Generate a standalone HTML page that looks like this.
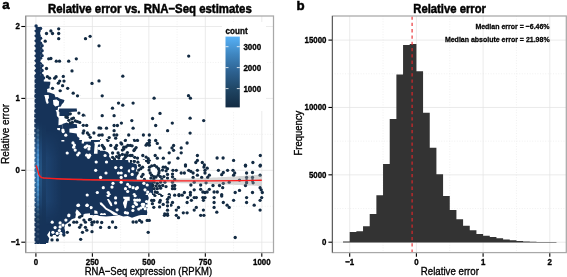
<!DOCTYPE html>
<html><head><meta charset="utf-8"><title>Relative error</title>
<style>html,body{margin:0;padding:0;background:#fff;width:567px;height:277px;overflow:hidden}
text{font-family:"Liberation Sans", sans-serif}</style></head>
<body>
<svg width="567" height="277" viewBox="0 0 567 277" style="display:block">
<rect width="567" height="277" fill="#fff"/>
<line x1="64.14" y1="16.0" x2="64.14" y2="252.5" stroke="#eeeeee" stroke-width="0.8" stroke-dasharray="1,1.6"/><line x1="120.61" y1="16.0" x2="120.61" y2="252.5" stroke="#eeeeee" stroke-width="0.8" stroke-dasharray="1,1.6"/><line x1="177.09" y1="16.0" x2="177.09" y2="252.5" stroke="#eeeeee" stroke-width="0.8" stroke-dasharray="1,1.6"/><line x1="233.56" y1="16.0" x2="233.56" y2="252.5" stroke="#eeeeee" stroke-width="0.8" stroke-dasharray="1,1.6"/><line x1="25.5" y1="206.25" x2="273.5" y2="206.25" stroke="#eeeeee" stroke-width="0.8" stroke-dasharray="1,1.6"/><line x1="25.5" y1="134.35" x2="273.5" y2="134.35" stroke="#eeeeee" stroke-width="0.8" stroke-dasharray="1,1.6"/><line x1="25.5" y1="62.45" x2="273.5" y2="62.45" stroke="#eeeeee" stroke-width="0.8" stroke-dasharray="1,1.6"/><line x1="35.90" y1="16.0" x2="35.90" y2="252.5" stroke="#e3e3e3" stroke-width="0.7"/><line x1="92.38" y1="16.0" x2="92.38" y2="252.5" stroke="#e3e3e3" stroke-width="0.7"/><line x1="148.85" y1="16.0" x2="148.85" y2="252.5" stroke="#e3e3e3" stroke-width="0.7"/><line x1="205.32" y1="16.0" x2="205.32" y2="252.5" stroke="#e3e3e3" stroke-width="0.7"/><line x1="261.80" y1="16.0" x2="261.80" y2="252.5" stroke="#e3e3e3" stroke-width="0.7"/><line x1="25.5" y1="242.20" x2="273.5" y2="242.20" stroke="#e3e3e3" stroke-width="0.7"/><line x1="25.5" y1="170.30" x2="273.5" y2="170.30" stroke="#e3e3e3" stroke-width="0.7"/><line x1="25.5" y1="98.40" x2="273.5" y2="98.40" stroke="#e3e3e3" stroke-width="0.7"/><line x1="25.5" y1="26.50" x2="273.5" y2="26.50" stroke="#e3e3e3" stroke-width="0.7"/>
<line x1="383.05" y1="16.0" x2="383.05" y2="252.5" stroke="#eeeeee" stroke-width="0.8" stroke-dasharray="1,1.6"/><line x1="449.75" y1="16.0" x2="449.75" y2="252.5" stroke="#eeeeee" stroke-width="0.8" stroke-dasharray="1,1.6"/><line x1="516.45" y1="16.0" x2="516.45" y2="252.5" stroke="#eeeeee" stroke-width="0.8" stroke-dasharray="1,1.6"/><line x1="332.0" y1="208.52" x2="566.5" y2="208.52" stroke="#eeeeee" stroke-width="0.8" stroke-dasharray="1,1.6"/><line x1="332.0" y1="141.15" x2="566.5" y2="141.15" stroke="#eeeeee" stroke-width="0.8" stroke-dasharray="1,1.6"/><line x1="332.0" y1="73.79" x2="566.5" y2="73.79" stroke="#eeeeee" stroke-width="0.8" stroke-dasharray="1,1.6"/><line x1="349.70" y1="16.0" x2="349.70" y2="252.5" stroke="#e3e3e3" stroke-width="0.7"/><line x1="416.40" y1="16.0" x2="416.40" y2="252.5" stroke="#e3e3e3" stroke-width="0.7"/><line x1="483.10" y1="16.0" x2="483.10" y2="252.5" stroke="#e3e3e3" stroke-width="0.7"/><line x1="549.80" y1="16.0" x2="549.80" y2="252.5" stroke="#e3e3e3" stroke-width="0.7"/><line x1="332.0" y1="242.20" x2="566.5" y2="242.20" stroke="#e3e3e3" stroke-width="0.7"/><line x1="332.0" y1="174.83" x2="566.5" y2="174.83" stroke="#e3e3e3" stroke-width="0.7"/><line x1="332.0" y1="107.47" x2="566.5" y2="107.47" stroke="#e3e3e3" stroke-width="0.7"/><line x1="332.0" y1="40.10" x2="566.5" y2="40.10" stroke="#e3e3e3" stroke-width="0.7"/>
<defs><clipPath id="pc"><rect x="25.5" y="16" width="248" height="236.5"/></clipPath><linearGradient id="cA" x1="0" y1="16" x2="0" y2="252" gradientUnits="userSpaceOnUse"><stop offset="0.0000" stop-color="#163359"/><stop offset="0.4492" stop-color="#163359"/><stop offset="0.5042" stop-color="#1b4169"/><stop offset="0.5466" stop-color="#245284"/><stop offset="0.5890" stop-color="#2c6298"/><stop offset="0.6314" stop-color="#2f6ba0"/><stop offset="0.6737" stop-color="#3270a5"/><stop offset="0.7161" stop-color="#2f6a9e"/><stop offset="0.7585" stop-color="#295c8d"/><stop offset="0.7924" stop-color="#224f7e"/><stop offset="0.8220" stop-color="#1b4168"/><stop offset="0.8559" stop-color="#17375a"/><stop offset="0.8898" stop-color="#163359"/><stop offset="1.0000" stop-color="#163359"/></linearGradient><linearGradient id="cB" x1="0" y1="16" x2="0" y2="252" gradientUnits="userSpaceOnUse"><stop offset="0.0000" stop-color="#163359"/><stop offset="0.4492" stop-color="#163359"/><stop offset="0.5042" stop-color="#1f4b73"/><stop offset="0.5466" stop-color="#2d67a0"/><stop offset="0.5890" stop-color="#3a82c2"/><stop offset="0.6314" stop-color="#4090d0"/><stop offset="0.6737" stop-color="#4498d8"/><stop offset="0.7161" stop-color="#3f8ecc"/><stop offset="0.7585" stop-color="#3577b0"/><stop offset="0.7924" stop-color="#2a6296"/><stop offset="0.8220" stop-color="#1f4a72"/><stop offset="0.8559" stop-color="#183a5a"/><stop offset="0.8898" stop-color="#163359"/><stop offset="1.0000" stop-color="#163359"/></linearGradient><linearGradient id="cC" x1="0" y1="16" x2="0" y2="252" gradientUnits="userSpaceOnUse"><stop offset="0.0000" stop-color="#163359"/><stop offset="0.4492" stop-color="#163359"/><stop offset="0.5042" stop-color="#193b61"/><stop offset="0.5466" stop-color="#1d4470"/><stop offset="0.5890" stop-color="#224c7b"/><stop offset="0.6314" stop-color="#23517f"/><stop offset="0.6737" stop-color="#255382"/><stop offset="0.7161" stop-color="#23507e"/><stop offset="0.7585" stop-color="#204975"/><stop offset="0.7924" stop-color="#1c426d"/><stop offset="0.8220" stop-color="#193a61"/><stop offset="0.8559" stop-color="#173559"/><stop offset="0.8898" stop-color="#163359"/><stop offset="1.0000" stop-color="#163359"/></linearGradient><linearGradient id="cD" x1="0" y1="16" x2="0" y2="252" gradientUnits="userSpaceOnUse"><stop offset="0.0000" stop-color="#163359"/><stop offset="0.4492" stop-color="#163359"/><stop offset="0.5042" stop-color="#17365c"/><stop offset="0.5466" stop-color="#193962"/><stop offset="0.5890" stop-color="#1a3c66"/><stop offset="0.6314" stop-color="#1b3e67"/><stop offset="0.6737" stop-color="#1c3f68"/><stop offset="0.7161" stop-color="#1b3e67"/><stop offset="0.7585" stop-color="#1a3b63"/><stop offset="0.7924" stop-color="#183960"/><stop offset="0.8220" stop-color="#17365c"/><stop offset="0.8559" stop-color="#163459"/><stop offset="0.8898" stop-color="#163359"/><stop offset="1.0000" stop-color="#163359"/></linearGradient></defs>
<g clip-path="url(#pc)">
<rect x="35.7" y="27" width="4.5" height="51" fill="#163359"/>
<g fill="#163359"><circle cx="36.10" cy="25.90" r="1.7"/><circle cx="37.60" cy="28.38" r="1.7"/><circle cx="40.60" cy="28.38" r="1.7"/><circle cx="36.10" cy="30.86" r="1.7"/><circle cx="39.10" cy="30.86" r="1.7"/><circle cx="37.60" cy="33.34" r="1.7"/><circle cx="36.10" cy="35.82" r="1.7"/><circle cx="39.10" cy="35.82" r="1.7"/><circle cx="37.60" cy="38.30" r="1.7"/><circle cx="40.60" cy="38.30" r="1.7"/><circle cx="36.10" cy="40.78" r="1.7"/><circle cx="39.10" cy="40.78" r="1.7"/><circle cx="37.60" cy="43.26" r="1.7"/><circle cx="40.60" cy="43.26" r="1.7"/><circle cx="36.10" cy="45.74" r="1.7"/><circle cx="39.10" cy="45.74" r="1.7"/><circle cx="42.10" cy="45.74" r="1.7"/><circle cx="37.60" cy="48.22" r="1.7"/><circle cx="40.60" cy="48.22" r="1.7"/><circle cx="36.10" cy="50.70" r="1.7"/><circle cx="39.10" cy="50.70" r="1.7"/><circle cx="42.10" cy="50.70" r="1.7"/><circle cx="37.60" cy="53.18" r="1.7"/><circle cx="40.60" cy="53.18" r="1.7"/><circle cx="36.10" cy="55.66" r="1.7"/><circle cx="39.10" cy="55.66" r="1.7"/><circle cx="42.10" cy="55.66" r="1.7"/><circle cx="37.60" cy="58.14" r="1.7"/><circle cx="40.60" cy="58.14" r="1.7"/><circle cx="36.10" cy="60.62" r="1.7"/><circle cx="39.10" cy="60.62" r="1.7"/><circle cx="37.60" cy="63.10" r="1.7"/><circle cx="40.60" cy="63.10" r="1.7"/><circle cx="36.10" cy="65.58" r="1.7"/><circle cx="39.10" cy="65.58" r="1.7"/><circle cx="42.10" cy="65.58" r="1.7"/><circle cx="37.60" cy="68.06" r="1.7"/><circle cx="40.60" cy="68.06" r="1.7"/><circle cx="36.10" cy="70.54" r="1.7"/><circle cx="39.10" cy="70.54" r="1.7"/><circle cx="42.10" cy="70.54" r="1.7"/><circle cx="37.60" cy="73.02" r="1.7"/><circle cx="40.60" cy="73.02" r="1.7"/><circle cx="36.10" cy="75.50" r="1.7"/><circle cx="39.10" cy="75.50" r="1.7"/><circle cx="42.10" cy="75.50" r="1.7"/><circle cx="37.60" cy="77.98" r="1.7"/><circle cx="40.60" cy="77.98" r="1.7"/><circle cx="43.60" cy="77.98" r="1.7"/></g>
<polygon points="34.5,76.0 43.8,76.0 43.8,81.4 50.3,81.8 50.3,83.9 49.6,86.1 49.6,88.3 47.1,89.0 47.1,91.5 49.6,91.9 54.7,95.1 54.7,96.9 34.5,96.9" fill="#163359"/>
<polygon points="34.5,95.3 43.8,95.3 45.6,98.2 46.0,103.2 47.8,103.9 48.5,100.3 47.4,97.4 47.8,95.6 56.1,95.6 56.5,98.5 53.2,100.3 52.5,102.5 53.9,103.9 54.7,106.1 56.8,106.8 57.9,109.4 73.0,109.4 73.0,111.5 59.0,111.5 57.5,113.0 56.8,116.9 34.5,116.9" fill="#163359"/>
<polygon points="34.5,116.0 73.0,116.0 73.0,136.9 34.5,136.9" fill="#163359"/>
<polygon points="34.9,136.0 93.0,136.0 93.0,166.0 34.9,166.0" fill="#163359"/>
<polygon points="93.0,152.8 100.6,152.2 107.1,153.3 110.9,154.4 111.4,157.1 115.7,158.7 121.2,159.3 127.7,159.8 128.7,162.5 138.5,162.0 140.7,166.0 93.0,166.0" fill="#163359"/>
<polygon points="34.9,166.0 93.0,166.0 93.0,196.0 34.9,196.0" fill="#163359"/>
<polygon points="93.0,166.0 153.0,166.0 153.0,196.0 93.0,196.0" fill="#163359"/>
<polygon points="34.9,196.0 54.7,196.0 54.7,226.0 34.9,226.0" fill="#163359"/>
<polygon points="38.6,194.9 93.0,194.9 93.0,212.9 84.8,213.7 81.9,215.8 80.4,212.9 76.8,209.3 75.4,212.2 76.1,215.8 74.7,219.4 71.1,220.9 67.4,223.1 63.8,225.0 38.6,225.0" fill="#163359"/>
<polygon points="93.0,196.0 153.0,196.0 153.0,198.7 147.2,200.3 145.0,204.7 141.7,209.0 145.0,211.2 146.1,213.9 138.5,215.5 132.0,217.7 127.7,216.0 123.3,216.6 119.0,215.0 112.5,216.0 106.0,216.6 99.5,216.0 96.2,214.4 93.0,215.5" fill="#163359"/>
<polygon points="34.9,217.7 54.7,217.7 57.9,222.0 54.7,225.2 52.5,228.5 49.2,231.7 47.1,235.0 49.2,238.2 48.2,243.1 34.9,243.1" fill="#163359"/>
<polygon points="64.8,116.0 73.0,116.0 73.0,118.5 68.4,118.9 66.2,118.2" fill="#fff"/>
<polygon points="59.0,118.2 61.9,117.1 64.8,118.9 64.8,123.2 61.9,123.9 59.4,121.8" fill="#fff"/>
<polygon points="56.8,126.8 59.7,126.1 61.9,128.3 65.5,129.4 66.2,131.5 63.3,131.9 61.2,130.4 57.5,130.1" fill="#fff"/>
<polygon points="69.1,133.3 73.0,132.6 73.0,136.0 69.8,136.0" fill="#fff"/>
<g fill="#fff">
<circle cx="42.2" cy="61.2" r="1.6"/>
<circle cx="56.8" cy="116.4" r="1.6"/>
<circle cx="63.3" cy="140.9" r="1.6"/>
<circle cx="67.7" cy="152.8" r="1.6"/>
<circle cx="74.2" cy="143.6" r="1.6"/>
<circle cx="74.7" cy="146.8" r="1.6"/>
<circle cx="75.2" cy="150.1" r="1.6"/>
<circle cx="78.5" cy="153.3" r="1.6"/>
<circle cx="79.6" cy="156.0" r="1.6"/>
<circle cx="80.7" cy="137.1" r="1.6"/>
<circle cx="82.8" cy="138.2" r="1.6"/>
<circle cx="85.0" cy="139.2" r="1.6"/>
<circle cx="87.2" cy="140.3" r="1.6"/>
<circle cx="90.4" cy="140.9" r="1.6"/>
<circle cx="86.6" cy="146.3" r="1.6"/>
<circle cx="90.4" cy="149.0" r="1.6"/>
<circle cx="88.2" cy="156.6" r="1.6"/>
<circle cx="89.3" cy="158.2" r="1.6"/>
<circle cx="76.3" cy="137.6" r="1.6"/>
<circle cx="104.9" cy="155.5" r="1.6"/>
<circle cx="106.5" cy="162.0" r="1.6"/>
<circle cx="96.2" cy="162.0" r="1.6"/>
<circle cx="132.5" cy="164.2" r="1.6"/>
<circle cx="87.2" cy="195.0" r="1.6"/>
<circle cx="95.7" cy="170.3" r="1.6"/>
<circle cx="106.0" cy="173.0" r="1.6"/>
<circle cx="115.7" cy="167.6" r="1.6"/>
<circle cx="121.2" cy="167.6" r="1.6"/>
<circle cx="118.5" cy="173.0" r="1.6"/>
<circle cx="121.2" cy="173.0" r="1.6"/>
<circle cx="121.2" cy="177.4" r="1.6"/>
<circle cx="100.6" cy="177.4" r="1.6"/>
<circle cx="121.2" cy="182.2" r="1.6"/>
<circle cx="113.0" cy="183.3" r="1.6"/>
<circle cx="112.0" cy="187.1" r="1.6"/>
<circle cx="103.3" cy="187.7" r="1.6"/>
<circle cx="97.3" cy="192.5" r="1.6"/>
<circle cx="108.2" cy="192.5" r="1.6"/>
<circle cx="109.2" cy="194.7" r="1.6"/>
<circle cx="136.3" cy="169.2" r="1.6"/>
<circle cx="139.6" cy="169.2" r="1.6"/>
<circle cx="142.8" cy="169.2" r="1.6"/>
<circle cx="137.9" cy="172.0" r="1.6"/>
<circle cx="141.2" cy="172.0" r="1.6"/>
<circle cx="136.3" cy="174.7" r="1.6"/>
<circle cx="139.6" cy="174.7" r="1.6"/>
<circle cx="142.8" cy="174.7" r="1.6"/>
<circle cx="137.9" cy="176.8" r="1.6"/>
<circle cx="141.2" cy="176.8" r="1.6"/>
<circle cx="147.7" cy="169.2" r="1.6"/>
<circle cx="150.9" cy="169.2" r="1.6"/>
<circle cx="129.3" cy="170.9" r="1.6"/>
<circle cx="131.4" cy="172.0" r="1.6"/>
<circle cx="125.5" cy="175.7" r="1.6"/>
<circle cx="127.7" cy="184.4" r="1.6"/>
<circle cx="129.8" cy="186.6" r="1.6"/>
<circle cx="133.1" cy="187.7" r="1.6"/>
<circle cx="136.3" cy="188.7" r="1.6"/>
<circle cx="125.5" cy="188.7" r="1.6"/>
<circle cx="127.7" cy="191.5" r="1.6"/>
<circle cx="134.2" cy="194.7" r="1.6"/>
<circle cx="143.9" cy="183.3" r="1.6"/>
<circle cx="147.2" cy="185.0" r="1.6"/>
<circle cx="145.0" cy="189.8" r="1.6"/>
<circle cx="147.7" cy="192.0" r="1.6"/>
<circle cx="150.4" cy="194.2" r="1.6"/>
<circle cx="147.2" cy="194.7" r="1.6"/>
<circle cx="137.4" cy="187.7" r="1.6"/>
<circle cx="77.9" cy="205.4" r="1.6"/>
<circle cx="86.9" cy="205.4" r="1.6"/>
<circle cx="91.3" cy="207.5" r="1.6"/>
<circle cx="68.9" cy="215.1" r="1.6"/>
<circle cx="66.0" cy="220.2" r="1.6"/>
<circle cx="61.7" cy="222.7" r="1.6"/>
<circle cx="53.7" cy="222.7" r="1.6"/>
<circle cx="78.5" cy="205.2" r="1.6"/>
<circle cx="87.2" cy="205.2" r="1.6"/>
<circle cx="99.5" cy="203.6" r="1.6"/>
<circle cx="102.7" cy="206.8" r="1.6"/>
<circle cx="106.0" cy="209.0" r="1.6"/>
<circle cx="109.2" cy="203.6" r="1.6"/>
<circle cx="112.5" cy="206.8" r="1.6"/>
<circle cx="115.7" cy="202.5" r="1.6"/>
<circle cx="119.0" cy="204.7" r="1.6"/>
<circle cx="121.2" cy="207.9" r="1.6"/>
<circle cx="125.5" cy="200.3" r="1.6"/>
<circle cx="128.7" cy="202.5" r="1.6"/>
<circle cx="130.9" cy="205.7" r="1.6"/>
<circle cx="134.2" cy="202.5" r="1.6"/>
<circle cx="137.4" cy="200.3" r="1.6"/>
<circle cx="139.6" cy="204.7" r="1.6"/>
<circle cx="138.5" cy="209.0" r="1.6"/>
<circle cx="136.3" cy="212.2" r="1.6"/>
<circle cx="114.7" cy="211.2" r="1.6"/>
<circle cx="109.2" cy="212.2" r="1.6"/>
<circle cx="103.8" cy="212.2" r="1.6"/>
<circle cx="123.3" cy="211.2" r="1.6"/>
<circle cx="120.1" cy="212.2" r="1.6"/>
</g>
<g fill="#132B43">
<circle cx="46.5" cy="33.5" r="1.65"/>
<circle cx="50.9" cy="30.9" r="1.65"/>
<circle cx="52.5" cy="33.5" r="1.65"/>
<circle cx="58.7" cy="28.8" r="1.65"/>
<circle cx="58.7" cy="33.5" r="1.65"/>
<circle cx="58.7" cy="38.7" r="1.65"/>
<circle cx="45.2" cy="41.2" r="1.65"/>
<circle cx="85.5" cy="38.7" r="1.65"/>
<circle cx="90.1" cy="36.3" r="1.65"/>
<circle cx="99.0" cy="45.8" r="1.65"/>
<circle cx="48.7" cy="58.8" r="1.65"/>
<circle cx="50.9" cy="58.5" r="1.65"/>
<circle cx="56.3" cy="61.2" r="1.65"/>
<circle cx="59.5" cy="61.2" r="1.65"/>
<circle cx="68.7" cy="61.2" r="1.65"/>
<circle cx="76.3" cy="58.8" r="1.65"/>
<circle cx="46.5" cy="68.5" r="1.65"/>
<circle cx="72.0" cy="70.9" r="1.65"/>
<circle cx="188.7" cy="56.1" r="1.65"/>
<circle cx="73.6" cy="93.1" r="1.65"/>
<circle cx="78.5" cy="95.8" r="1.65"/>
<circle cx="92.0" cy="83.4" r="1.65"/>
<circle cx="47.4" cy="76.7" r="1.65"/>
<circle cx="49.6" cy="78.2" r="1.65"/>
<circle cx="54.7" cy="78.2" r="1.65"/>
<circle cx="56.1" cy="76.7" r="1.65"/>
<circle cx="63.3" cy="76.4" r="1.65"/>
<circle cx="58.3" cy="83.2" r="1.65"/>
<circle cx="59.7" cy="81.1" r="1.65"/>
<circle cx="64.0" cy="81.1" r="1.65"/>
<circle cx="62.6" cy="85.7" r="1.65"/>
<circle cx="67.7" cy="88.3" r="1.65"/>
<circle cx="60.1" cy="90.8" r="1.65"/>
<circle cx="72.7" cy="93.3" r="1.65"/>
<circle cx="52.5" cy="88.3" r="1.65"/>
<circle cx="63.3" cy="100.3" r="1.65"/>
<circle cx="61.9" cy="103.2" r="1.65"/>
<circle cx="60.4" cy="105.0" r="1.65"/>
<circle cx="59.7" cy="113.3" r="1.65"/>
<circle cx="63.3" cy="113.0" r="1.65"/>
<circle cx="66.2" cy="113.3" r="1.65"/>
<circle cx="70.5" cy="113.3" r="1.65"/>
<circle cx="122.8" cy="76.2" r="1.65"/>
<circle cx="99.0" cy="80.9" r="1.65"/>
<circle cx="102.2" cy="95.8" r="1.65"/>
<circle cx="118.5" cy="103.1" r="1.65"/>
<circle cx="122.8" cy="105.2" r="1.65"/>
<circle cx="133.1" cy="103.1" r="1.65"/>
<circle cx="154.1" cy="98.2" r="1.65"/>
<circle cx="188.5" cy="95.7" r="1.65"/>
<circle cx="190.4" cy="98.2" r="1.65"/>
<circle cx="73.1" cy="110.3" r="1.65"/>
<circle cx="75.8" cy="110.3" r="1.65"/>
<circle cx="79.6" cy="113.0" r="1.65"/>
<circle cx="83.9" cy="115.7" r="1.65"/>
<circle cx="73.1" cy="117.9" r="1.65"/>
<circle cx="74.7" cy="120.1" r="1.65"/>
<circle cx="76.9" cy="122.2" r="1.65"/>
<circle cx="80.7" cy="122.2" r="1.65"/>
<circle cx="73.1" cy="125.5" r="1.65"/>
<circle cx="83.9" cy="125.5" r="1.65"/>
<circle cx="87.2" cy="125.5" r="1.65"/>
<circle cx="74.2" cy="127.7" r="1.65"/>
<circle cx="82.8" cy="132.0" r="1.65"/>
<circle cx="86.1" cy="133.6" r="1.65"/>
<circle cx="89.3" cy="134.7" r="1.65"/>
<circle cx="112.5" cy="108.2" r="1.65"/>
<circle cx="102.2" cy="115.7" r="1.65"/>
<circle cx="114.1" cy="115.7" r="1.65"/>
<circle cx="131.8" cy="120.6" r="1.65"/>
<circle cx="121.4" cy="123.1" r="1.65"/>
<circle cx="114.1" cy="125.5" r="1.65"/>
<circle cx="117.4" cy="125.5" r="1.65"/>
<circle cx="100.6" cy="128.2" r="1.65"/>
<circle cx="106.5" cy="128.2" r="1.65"/>
<circle cx="114.1" cy="130.7" r="1.65"/>
<circle cx="133.1" cy="128.2" r="1.65"/>
<circle cx="94.1" cy="132.5" r="1.65"/>
<circle cx="99.5" cy="135.0" r="1.65"/>
<circle cx="102.2" cy="135.0" r="1.65"/>
<circle cx="114.1" cy="135.0" r="1.65"/>
<circle cx="116.8" cy="135.0" r="1.65"/>
<circle cx="128.7" cy="135.0" r="1.65"/>
<circle cx="143.4" cy="135.0" r="1.65"/>
<circle cx="149.3" cy="135.0" r="1.65"/>
<circle cx="152.6" cy="118.5" r="1.65"/>
<circle cx="160.0" cy="113.4" r="1.65"/>
<circle cx="155.7" cy="125.5" r="1.65"/>
<circle cx="172.3" cy="123.1" r="1.65"/>
<circle cx="167.6" cy="130.7" r="1.65"/>
<circle cx="190.1" cy="118.2" r="1.65"/>
<circle cx="203.7" cy="120.6" r="1.65"/>
<circle cx="190.1" cy="133.1" r="1.65"/>
<circle cx="109.2" cy="137.6" r="1.65"/>
<circle cx="115.7" cy="138.2" r="1.65"/>
<circle cx="94.1" cy="140.3" r="1.65"/>
<circle cx="96.8" cy="140.3" r="1.65"/>
<circle cx="99.5" cy="140.3" r="1.65"/>
<circle cx="107.1" cy="140.3" r="1.65"/>
<circle cx="125.5" cy="140.3" r="1.65"/>
<circle cx="134.2" cy="140.3" r="1.65"/>
<circle cx="137.4" cy="140.3" r="1.65"/>
<circle cx="149.3" cy="140.3" r="1.65"/>
<circle cx="121.2" cy="143.0" r="1.65"/>
<circle cx="110.9" cy="144.7" r="1.65"/>
<circle cx="147.2" cy="143.6" r="1.65"/>
<circle cx="149.3" cy="142.5" r="1.65"/>
<circle cx="95.2" cy="146.3" r="1.65"/>
<circle cx="97.3" cy="146.8" r="1.65"/>
<circle cx="102.7" cy="146.3" r="1.65"/>
<circle cx="110.3" cy="145.7" r="1.65"/>
<circle cx="115.7" cy="145.7" r="1.65"/>
<circle cx="125.5" cy="145.7" r="1.65"/>
<circle cx="128.7" cy="145.7" r="1.65"/>
<circle cx="130.9" cy="145.2" r="1.65"/>
<circle cx="146.1" cy="145.2" r="1.65"/>
<circle cx="149.3" cy="145.2" r="1.65"/>
<circle cx="95.7" cy="148.5" r="1.65"/>
<circle cx="98.4" cy="149.0" r="1.65"/>
<circle cx="103.3" cy="148.5" r="1.65"/>
<circle cx="114.7" cy="147.9" r="1.65"/>
<circle cx="117.9" cy="147.9" r="1.65"/>
<circle cx="122.2" cy="149.5" r="1.65"/>
<circle cx="125.5" cy="147.9" r="1.65"/>
<circle cx="134.2" cy="148.5" r="1.65"/>
<circle cx="136.3" cy="147.4" r="1.65"/>
<circle cx="94.1" cy="151.2" r="1.65"/>
<circle cx="97.9" cy="151.2" r="1.65"/>
<circle cx="99.5" cy="150.6" r="1.65"/>
<circle cx="103.8" cy="151.7" r="1.65"/>
<circle cx="112.5" cy="152.8" r="1.65"/>
<circle cx="119.0" cy="152.8" r="1.65"/>
<circle cx="123.3" cy="150.6" r="1.65"/>
<circle cx="127.7" cy="152.2" r="1.65"/>
<circle cx="114.7" cy="155.5" r="1.65"/>
<circle cx="120.6" cy="155.5" r="1.65"/>
<circle cx="126.6" cy="154.4" r="1.65"/>
<circle cx="130.9" cy="155.5" r="1.65"/>
<circle cx="137.4" cy="157.7" r="1.65"/>
<circle cx="142.8" cy="155.5" r="1.65"/>
<circle cx="146.1" cy="157.1" r="1.65"/>
<circle cx="148.2" cy="158.7" r="1.65"/>
<circle cx="112.5" cy="157.7" r="1.65"/>
<circle cx="117.9" cy="158.2" r="1.65"/>
<circle cx="122.2" cy="158.2" r="1.65"/>
<circle cx="125.5" cy="157.1" r="1.65"/>
<circle cx="128.7" cy="158.7" r="1.65"/>
<circle cx="136.3" cy="160.9" r="1.65"/>
<circle cx="143.9" cy="160.9" r="1.65"/>
<circle cx="147.2" cy="163.1" r="1.65"/>
<circle cx="149.3" cy="160.9" r="1.65"/>
<circle cx="149.3" cy="164.7" r="1.65"/>
<circle cx="155.7" cy="140.5" r="1.65"/>
<circle cx="157.3" cy="143.4" r="1.65"/>
<circle cx="160.0" cy="147.9" r="1.65"/>
<circle cx="173.6" cy="145.5" r="1.65"/>
<circle cx="172.0" cy="147.9" r="1.65"/>
<circle cx="173.6" cy="150.3" r="1.65"/>
<circle cx="169.2" cy="152.8" r="1.65"/>
<circle cx="181.2" cy="147.9" r="1.65"/>
<circle cx="181.2" cy="152.8" r="1.65"/>
<circle cx="187.1" cy="143.0" r="1.65"/>
<circle cx="155.2" cy="155.5" r="1.65"/>
<circle cx="157.3" cy="158.2" r="1.65"/>
<circle cx="163.3" cy="158.2" r="1.65"/>
<circle cx="177.9" cy="158.2" r="1.65"/>
<circle cx="169.2" cy="162.5" r="1.65"/>
<circle cx="197.4" cy="155.5" r="1.65"/>
<circle cx="197.4" cy="160.4" r="1.65"/>
<circle cx="195.8" cy="162.5" r="1.65"/>
<circle cx="202.3" cy="162.5" r="1.65"/>
<circle cx="204.4" cy="165.0" r="1.65"/>
<circle cx="155.7" cy="165.0" r="1.65"/>
<circle cx="185.5" cy="165.0" r="1.65"/>
<circle cx="217.1" cy="158.0" r="1.65"/>
<circle cx="223.1" cy="158.0" r="1.65"/>
<circle cx="233.6" cy="160.4" r="1.65"/>
<circle cx="252.9" cy="162.5" r="1.65"/>
<circle cx="260.3" cy="155.5" r="1.65"/>
<circle cx="245.5" cy="165.2" r="1.65"/>
<circle cx="260.3" cy="165.2" r="1.65"/>
<circle cx="154.1" cy="167.1" r="1.65"/>
<circle cx="157.3" cy="166.5" r="1.65"/>
<circle cx="163.8" cy="167.1" r="1.65"/>
<circle cx="166.0" cy="168.2" r="1.65"/>
<circle cx="185.5" cy="166.0" r="1.65"/>
<circle cx="203.9" cy="167.1" r="1.65"/>
<circle cx="207.2" cy="168.2" r="1.65"/>
<circle cx="155.2" cy="170.3" r="1.65"/>
<circle cx="158.4" cy="169.8" r="1.65"/>
<circle cx="163.8" cy="170.3" r="1.65"/>
<circle cx="168.2" cy="170.3" r="1.65"/>
<circle cx="173.0" cy="170.3" r="1.65"/>
<circle cx="176.3" cy="170.3" r="1.65"/>
<circle cx="188.7" cy="170.3" r="1.65"/>
<circle cx="190.9" cy="171.4" r="1.65"/>
<circle cx="197.4" cy="170.3" r="1.65"/>
<circle cx="205.0" cy="170.3" r="1.65"/>
<circle cx="153.0" cy="173.0" r="1.65"/>
<circle cx="156.2" cy="173.6" r="1.65"/>
<circle cx="161.7" cy="174.1" r="1.65"/>
<circle cx="167.1" cy="175.2" r="1.65"/>
<circle cx="172.5" cy="174.1" r="1.65"/>
<circle cx="181.2" cy="173.0" r="1.65"/>
<circle cx="184.4" cy="173.0" r="1.65"/>
<circle cx="193.1" cy="173.0" r="1.65"/>
<circle cx="197.4" cy="175.2" r="1.65"/>
<circle cx="205.0" cy="173.0" r="1.65"/>
<circle cx="209.3" cy="175.2" r="1.65"/>
<circle cx="154.1" cy="176.3" r="1.65"/>
<circle cx="157.3" cy="176.3" r="1.65"/>
<circle cx="160.6" cy="176.8" r="1.65"/>
<circle cx="163.8" cy="176.8" r="1.65"/>
<circle cx="172.5" cy="176.8" r="1.65"/>
<circle cx="193.1" cy="177.4" r="1.65"/>
<circle cx="201.7" cy="177.4" r="1.65"/>
<circle cx="207.7" cy="177.4" r="1.65"/>
<circle cx="153.0" cy="179.5" r="1.65"/>
<circle cx="156.2" cy="179.5" r="1.65"/>
<circle cx="159.5" cy="179.5" r="1.65"/>
<circle cx="174.7" cy="179.5" r="1.65"/>
<circle cx="154.1" cy="182.2" r="1.65"/>
<circle cx="157.3" cy="183.3" r="1.65"/>
<circle cx="160.6" cy="182.2" r="1.65"/>
<circle cx="164.9" cy="182.2" r="1.65"/>
<circle cx="172.5" cy="182.2" r="1.65"/>
<circle cx="190.9" cy="185.0" r="1.65"/>
<circle cx="200.7" cy="185.0" r="1.65"/>
<circle cx="206.1" cy="182.8" r="1.65"/>
<circle cx="194.2" cy="182.2" r="1.65"/>
<circle cx="153.0" cy="185.5" r="1.65"/>
<circle cx="156.2" cy="186.0" r="1.65"/>
<circle cx="159.5" cy="186.0" r="1.65"/>
<circle cx="162.7" cy="185.5" r="1.65"/>
<circle cx="166.0" cy="186.6" r="1.65"/>
<circle cx="172.5" cy="186.0" r="1.65"/>
<circle cx="174.7" cy="185.5" r="1.65"/>
<circle cx="154.1" cy="188.7" r="1.65"/>
<circle cx="157.3" cy="188.7" r="1.65"/>
<circle cx="160.6" cy="188.2" r="1.65"/>
<circle cx="172.5" cy="188.7" r="1.65"/>
<circle cx="174.7" cy="188.7" r="1.65"/>
<circle cx="194.2" cy="189.8" r="1.65"/>
<circle cx="200.7" cy="189.3" r="1.65"/>
<circle cx="209.3" cy="189.3" r="1.65"/>
<circle cx="155.2" cy="192.0" r="1.65"/>
<circle cx="157.3" cy="192.5" r="1.65"/>
<circle cx="184.4" cy="192.5" r="1.65"/>
<circle cx="190.4" cy="192.5" r="1.65"/>
<circle cx="202.8" cy="192.0" r="1.65"/>
<circle cx="205.0" cy="192.5" r="1.65"/>
<circle cx="207.2" cy="192.0" r="1.65"/>
<circle cx="154.1" cy="195.0" r="1.65"/>
<circle cx="159.5" cy="195.0" r="1.65"/>
<circle cx="169.2" cy="194.7" r="1.65"/>
<circle cx="174.7" cy="195.2" r="1.65"/>
<circle cx="179.0" cy="194.7" r="1.65"/>
<circle cx="182.2" cy="195.2" r="1.65"/>
<circle cx="190.4" cy="195.0" r="1.65"/>
<circle cx="218.4" cy="170.3" r="1.65"/>
<circle cx="223.3" cy="172.5" r="1.65"/>
<circle cx="221.7" cy="174.7" r="1.65"/>
<circle cx="227.6" cy="170.3" r="1.65"/>
<circle cx="233.0" cy="170.3" r="1.65"/>
<circle cx="234.7" cy="173.0" r="1.65"/>
<circle cx="233.6" cy="175.2" r="1.65"/>
<circle cx="245.5" cy="166.0" r="1.65"/>
<circle cx="260.1" cy="166.0" r="1.65"/>
<circle cx="246.6" cy="173.0" r="1.65"/>
<circle cx="252.5" cy="172.5" r="1.65"/>
<circle cx="260.1" cy="175.2" r="1.65"/>
<circle cx="246.6" cy="177.4" r="1.65"/>
<circle cx="252.5" cy="177.4" r="1.65"/>
<circle cx="239.5" cy="180.1" r="1.65"/>
<circle cx="229.2" cy="182.2" r="1.65"/>
<circle cx="246.6" cy="180.6" r="1.65"/>
<circle cx="252.5" cy="180.6" r="1.65"/>
<circle cx="246.6" cy="182.8" r="1.65"/>
<circle cx="253.1" cy="182.8" r="1.65"/>
<circle cx="245.5" cy="185.5" r="1.65"/>
<circle cx="223.3" cy="183.3" r="1.65"/>
<circle cx="219.5" cy="185.5" r="1.65"/>
<circle cx="222.7" cy="187.7" r="1.65"/>
<circle cx="213.0" cy="185.5" r="1.65"/>
<circle cx="214.1" cy="192.0" r="1.65"/>
<circle cx="217.3" cy="192.0" r="1.65"/>
<circle cx="221.7" cy="194.7" r="1.65"/>
<circle cx="235.2" cy="192.5" r="1.65"/>
<circle cx="239.5" cy="190.4" r="1.65"/>
<circle cx="252.5" cy="192.5" r="1.65"/>
<circle cx="260.1" cy="187.7" r="1.65"/>
<circle cx="261.2" cy="189.8" r="1.65"/>
<circle cx="262.3" cy="192.5" r="1.65"/>
<circle cx="84.0" cy="220.2" r="1.65"/>
<circle cx="86.2" cy="222.3" r="1.65"/>
<circle cx="90.5" cy="219.4" r="1.65"/>
<circle cx="92.0" cy="222.3" r="1.65"/>
<circle cx="80.4" cy="221.6" r="1.65"/>
<circle cx="81.9" cy="218.0" r="1.65"/>
<circle cx="79.7" cy="216.6" r="1.65"/>
<circle cx="94.1" cy="222.0" r="1.65"/>
<circle cx="97.3" cy="222.0" r="1.65"/>
<circle cx="101.7" cy="222.5" r="1.65"/>
<circle cx="112.5" cy="222.0" r="1.65"/>
<circle cx="133.1" cy="222.0" r="1.65"/>
<circle cx="136.3" cy="222.0" r="1.65"/>
<circle cx="139.6" cy="220.4" r="1.65"/>
<circle cx="141.7" cy="222.0" r="1.65"/>
<circle cx="147.2" cy="220.4" r="1.65"/>
<circle cx="149.3" cy="220.4" r="1.65"/>
<circle cx="147.2" cy="202.5" r="1.65"/>
<circle cx="149.9" cy="204.1" r="1.65"/>
<circle cx="154.1" cy="200.3" r="1.65"/>
<circle cx="153.0" cy="202.5" r="1.65"/>
<circle cx="154.1" cy="206.8" r="1.65"/>
<circle cx="155.2" cy="200.3" r="1.65"/>
<circle cx="160.6" cy="200.9" r="1.65"/>
<circle cx="159.5" cy="203.0" r="1.65"/>
<circle cx="160.0" cy="207.4" r="1.65"/>
<circle cx="163.8" cy="204.7" r="1.65"/>
<circle cx="167.1" cy="200.3" r="1.65"/>
<circle cx="169.2" cy="197.6" r="1.65"/>
<circle cx="172.5" cy="202.5" r="1.65"/>
<circle cx="170.9" cy="205.2" r="1.65"/>
<circle cx="167.1" cy="210.1" r="1.65"/>
<circle cx="164.4" cy="215.3" r="1.65"/>
<circle cx="167.6" cy="215.3" r="1.65"/>
<circle cx="178.5" cy="207.4" r="1.65"/>
<circle cx="176.3" cy="210.1" r="1.65"/>
<circle cx="176.3" cy="215.3" r="1.65"/>
<circle cx="178.5" cy="217.7" r="1.65"/>
<circle cx="183.3" cy="212.8" r="1.65"/>
<circle cx="187.1" cy="212.8" r="1.65"/>
<circle cx="187.7" cy="197.6" r="1.65"/>
<circle cx="187.1" cy="202.5" r="1.65"/>
<circle cx="191.4" cy="200.3" r="1.65"/>
<circle cx="194.2" cy="197.6" r="1.65"/>
<circle cx="196.3" cy="197.6" r="1.65"/>
<circle cx="196.3" cy="207.4" r="1.65"/>
<circle cx="194.2" cy="210.1" r="1.65"/>
<circle cx="202.8" cy="197.6" r="1.65"/>
<circle cx="205.0" cy="197.6" r="1.65"/>
<circle cx="203.4" cy="200.3" r="1.65"/>
<circle cx="203.4" cy="210.1" r="1.65"/>
<circle cx="200.7" cy="215.3" r="1.65"/>
<circle cx="203.9" cy="215.3" r="1.65"/>
<circle cx="169.2" cy="195.5" r="1.65"/>
<circle cx="179.0" cy="195.5" r="1.65"/>
<circle cx="160.6" cy="195.5" r="1.65"/>
<circle cx="214.1" cy="197.6" r="1.65"/>
<circle cx="214.1" cy="202.5" r="1.65"/>
<circle cx="214.1" cy="207.4" r="1.65"/>
<circle cx="221.7" cy="196.0" r="1.65"/>
<circle cx="223.3" cy="202.5" r="1.65"/>
<circle cx="227.1" cy="205.2" r="1.65"/>
<circle cx="229.2" cy="207.4" r="1.65"/>
<circle cx="233.6" cy="200.3" r="1.65"/>
<circle cx="216.8" cy="212.2" r="1.65"/>
<circle cx="246.6" cy="197.6" r="1.65"/>
<circle cx="246.6" cy="202.5" r="1.65"/>
<circle cx="254.2" cy="205.2" r="1.65"/>
<circle cx="261.7" cy="197.6" r="1.65"/>
<circle cx="260.1" cy="200.3" r="1.65"/>
<circle cx="260.1" cy="210.1" r="1.65"/>
<circle cx="56.3" cy="224.2" r="1.65"/>
<circle cx="59.0" cy="226.9" r="1.65"/>
<circle cx="61.2" cy="224.7" r="1.65"/>
<circle cx="63.9" cy="226.9" r="1.65"/>
<circle cx="65.5" cy="224.2" r="1.65"/>
<circle cx="68.2" cy="225.2" r="1.65"/>
<circle cx="62.2" cy="229.6" r="1.65"/>
<circle cx="58.5" cy="230.1" r="1.65"/>
<circle cx="57.4" cy="232.8" r="1.65"/>
<circle cx="61.2" cy="233.4" r="1.65"/>
<circle cx="67.7" cy="232.3" r="1.65"/>
<circle cx="63.9" cy="235.0" r="1.65"/>
<circle cx="57.4" cy="235.0" r="1.65"/>
<circle cx="51.4" cy="235.0" r="1.65"/>
<circle cx="52.0" cy="239.9" r="1.65"/>
<circle cx="57.4" cy="239.9" r="1.65"/>
<circle cx="73.6" cy="222.5" r="1.65"/>
<circle cx="76.3" cy="222.5" r="1.65"/>
<circle cx="80.7" cy="225.2" r="1.65"/>
<circle cx="79.6" cy="227.4" r="1.65"/>
<circle cx="85.5" cy="226.9" r="1.65"/>
<circle cx="87.2" cy="230.1" r="1.65"/>
<circle cx="82.8" cy="232.3" r="1.65"/>
<circle cx="92.0" cy="231.7" r="1.65"/>
<circle cx="92.0" cy="224.7" r="1.65"/>
<circle cx="80.7" cy="239.3" r="1.65"/>
<circle cx="100.6" cy="227.4" r="1.65"/>
<circle cx="109.2" cy="227.4" r="1.65"/>
<circle cx="115.7" cy="227.4" r="1.65"/>
<circle cx="148.2" cy="232.3" r="1.65"/>
<circle cx="235.2" cy="237.5" r="1.65"/>
</g>
<clipPath id="tc0"><rect x="60.00" y="120.00" width="40.00" height="20.00"/></clipPath>
<rect x="60.00" y="120.00" width="40.00" height="20.00" fill="#fff"/>
<g clip-path="url(#tc0)">
<polygon points="60.0,124.3 64.0,124.0 64.3,122.2 66.9,121.8 66.9,118.6 80.9,118.6 81.3,123.2 76.6,124.3 76.2,127.2 74.4,128.3 69.4,128.7 69.4,132.6 76.6,133.4 77.3,136.6 79.5,138.1 78.8,141.7 58.6,141.7 58.6,124.3" fill="#163359"/>
<circle cx="70.5" cy="120.7" r="1.6" fill="#fff"/>
<circle cx="73.4" cy="121.1" r="1.6" fill="#fff"/>
<circle cx="62.9" cy="130.1" r="1.6" fill="#fff"/>
<circle cx="65.8" cy="135.2" r="1.6" fill="#fff"/>
<circle cx="63.2" cy="131.6" r="1.6" fill="#fff"/>
<circle cx="83.8" cy="125.4" r="1.65" fill="#132B43"/>
<circle cx="86.7" cy="125.4" r="1.65" fill="#132B43"/>
<circle cx="83.8" cy="130.8" r="1.65" fill="#132B43"/>
<circle cx="83.1" cy="133.0" r="1.65" fill="#132B43"/>
<circle cx="87.4" cy="133.0" r="1.65" fill="#132B43"/>
<circle cx="88.9" cy="134.8" r="1.65" fill="#132B43"/>
<circle cx="93.9" cy="133.0" r="1.65" fill="#132B43"/>
<circle cx="90.3" cy="137.3" r="1.65" fill="#132B43"/>
<circle cx="99.0" cy="127.9" r="1.65" fill="#132B43"/>
<circle cx="99.0" cy="135.2" r="1.65" fill="#132B43"/>
</g>
<clipPath id="tc1"><rect x="45.00" y="100.00" width="40.00" height="20.00"/></clipPath>
<rect x="45.00" y="100.00" width="40.00" height="20.00" fill="#fff"/>
<g clip-path="url(#tc1)">
<polygon points="43.6,103.2 49.3,103.2 49.3,98.6 54.4,98.6 54.4,105.8 56.6,107.2 56.6,108.7 76.8,108.7 77.1,111.9 67.4,112.3 67.4,117.0 57.3,117.0 56.6,121.7 43.6,121.7" fill="#163359"/>
<polygon points="58.7,98.6 64.5,98.6 64.5,104.3 61.6,106.9 58.7,105.8" fill="#163359"/>
<circle cx="58.4" cy="114.4" r="1.6" fill="#fff"/>
<circle cx="79.7" cy="113.0" r="1.65" fill="#132B43"/>
<circle cx="84.0" cy="115.2" r="1.65" fill="#132B43"/>
<circle cx="73.2" cy="117.7" r="1.65" fill="#132B43"/>
<circle cx="68.8" cy="119.5" r="1.65" fill="#132B43"/>
<circle cx="75.3" cy="118.8" r="1.65" fill="#132B43"/>
<circle cx="45.4" cy="101.1" r="1.65" fill="#132B43"/>
</g>
<clipPath id="tc2"><rect x="60.00" y="140.00" width="40.00" height="20.00"/></clipPath>
<rect x="60.00" y="140.00" width="40.00" height="20.00" fill="#fff"/>
<g clip-path="url(#tc2)">
<polygon points="58.6,138.6 103.3,138.6 103.3,161.7 58.6,161.7" fill="#163359"/>
<polygon points="61.4,138.6 64.3,138.6 64.3,141.4 61.4,141.4" fill="#fff"/>
<polygon points="82.4,138.6 91.0,138.6 91.0,141.4 84.2,141.8 83.8,143.6 81.7,143.6 81.7,141.8" fill="#fff"/>
<polygon points="93.9,142.2 100.0,141.8 100.0,144.3 97.9,144.7 97.5,153.7 93.9,153.7 94.7,144.3" fill="#fff"/>
<circle cx="73.0" cy="142.9" r="1.6" fill="#fff"/>
<circle cx="74.4" cy="145.1" r="1.6" fill="#fff"/>
<circle cx="73.7" cy="147.2" r="1.6" fill="#fff"/>
<circle cx="75.2" cy="150.1" r="1.6" fill="#fff"/>
<circle cx="67.2" cy="153.0" r="1.6" fill="#fff"/>
<circle cx="77.7" cy="154.8" r="1.6" fill="#fff"/>
<circle cx="79.1" cy="153.0" r="1.6" fill="#fff"/>
<circle cx="85.3" cy="147.2" r="1.6" fill="#fff"/>
<circle cx="87.1" cy="145.8" r="1.6" fill="#fff"/>
<circle cx="89.2" cy="146.5" r="1.6" fill="#fff"/>
<circle cx="88.9" cy="149.0" r="1.6" fill="#fff"/>
<circle cx="86.7" cy="155.2" r="1.6" fill="#fff"/>
<circle cx="88.9" cy="156.2" r="1.6" fill="#fff"/>
<circle cx="89.6" cy="155.2" r="1.6" fill="#fff"/>
<circle cx="88.5" cy="157.3" r="1.6" fill="#fff"/>
<circle cx="99.0" cy="148.3" r="1.6" fill="#fff"/>
</g>
<clipPath id="tc3"><rect x="100.00" y="140.00" width="40.00" height="20.00"/></clipPath>
<rect x="100.00" y="140.00" width="40.00" height="20.00" fill="#fff"/>
<g clip-path="url(#tc3)">
<polygon points="98.6,150.8 104.3,150.8 107.9,152.3 109.4,154.4 109.0,156.6 110.8,158.8 111.6,161.7 98.6,161.7" fill="#163359"/>
<circle cx="105.1" cy="155.5" r="1.6" fill="#fff"/>
<circle cx="107.9" cy="140.4" r="1.65" fill="#132B43"/>
<circle cx="125.3" cy="140.4" r="1.65" fill="#132B43"/>
<circle cx="134.7" cy="140.4" r="1.65" fill="#132B43"/>
<circle cx="137.5" cy="140.4" r="1.65" fill="#132B43"/>
<circle cx="120.9" cy="142.9" r="1.65" fill="#132B43"/>
<circle cx="121.7" cy="144.0" r="1.65" fill="#132B43"/>
<circle cx="102.2" cy="145.4" r="1.65" fill="#132B43"/>
<circle cx="103.6" cy="147.2" r="1.65" fill="#132B43"/>
<circle cx="104.3" cy="148.7" r="1.65" fill="#132B43"/>
<circle cx="110.8" cy="145.4" r="1.65" fill="#132B43"/>
<circle cx="116.6" cy="145.4" r="1.65" fill="#132B43"/>
<circle cx="115.2" cy="147.6" r="1.65" fill="#132B43"/>
<circle cx="115.9" cy="148.7" r="1.65" fill="#132B43"/>
<circle cx="123.8" cy="147.2" r="1.65" fill="#132B43"/>
<circle cx="126.0" cy="146.9" r="1.65" fill="#132B43"/>
<circle cx="127.8" cy="145.4" r="1.65" fill="#132B43"/>
<circle cx="130.3" cy="145.4" r="1.65" fill="#132B43"/>
<circle cx="132.1" cy="145.8" r="1.65" fill="#132B43"/>
<circle cx="122.4" cy="150.1" r="1.65" fill="#132B43"/>
<circle cx="123.8" cy="149.0" r="1.65" fill="#132B43"/>
<circle cx="136.1" cy="147.6" r="1.65" fill="#132B43"/>
<circle cx="134.7" cy="149.4" r="1.65" fill="#132B43"/>
<circle cx="133.9" cy="150.5" r="1.65" fill="#132B43"/>
<circle cx="112.6" cy="153.0" r="1.65" fill="#132B43"/>
<circle cx="112.6" cy="157.3" r="1.65" fill="#132B43"/>
<circle cx="118.1" cy="153.0" r="1.65" fill="#132B43"/>
<circle cx="119.5" cy="155.5" r="1.65" fill="#132B43"/>
<circle cx="118.8" cy="158.1" r="1.65" fill="#132B43"/>
<circle cx="122.4" cy="154.4" r="1.65" fill="#132B43"/>
<circle cx="125.3" cy="154.8" r="1.65" fill="#132B43"/>
<circle cx="127.4" cy="152.6" r="1.65" fill="#132B43"/>
<circle cx="127.4" cy="155.5" r="1.65" fill="#132B43"/>
<circle cx="130.3" cy="155.5" r="1.65" fill="#132B43"/>
<circle cx="132.1" cy="155.5" r="1.65" fill="#132B43"/>
<circle cx="125.3" cy="157.3" r="1.65" fill="#132B43"/>
<circle cx="123.8" cy="159.1" r="1.65" fill="#132B43"/>
<circle cx="134.7" cy="157.3" r="1.65" fill="#132B43"/>
<circle cx="137.5" cy="158.1" r="1.65" fill="#132B43"/>
<circle cx="114.4" cy="159.1" r="1.65" fill="#132B43"/>
<circle cx="116.6" cy="156.6" r="1.65" fill="#132B43"/>
</g>
<clipPath id="tc4"><rect x="130.00" y="160.00" width="40.00" height="20.00"/></clipPath>
<rect x="130.00" y="160.00" width="40.00" height="20.00" fill="#fff"/>
<g clip-path="url(#tc4)">
<polygon points="128.6,162.9 132.2,162.9 134.3,163.6 136.5,164.3 137.2,167.2 135.8,171.6 137.9,174.4 136.5,177.3 137.2,181.7 128.6,181.7" fill="#163359"/>
<circle cx="132.9" cy="168.7" r="1.6" fill="#fff"/>
<circle cx="132.2" cy="174.4" r="1.6" fill="#fff"/>
<circle cx="149.5" cy="167.2" r="1.65" fill="#132B43"/>
<circle cx="151.7" cy="165.8" r="1.65" fill="#132B43"/>
<circle cx="154.5" cy="165.4" r="1.65" fill="#132B43"/>
<circle cx="156.7" cy="166.9" r="1.65" fill="#132B43"/>
<circle cx="158.5" cy="168.7" r="1.65" fill="#132B43"/>
<circle cx="159.2" cy="170.8" r="1.65" fill="#132B43"/>
<circle cx="158.9" cy="173.0" r="1.65" fill="#132B43"/>
<circle cx="158.2" cy="175.2" r="1.65" fill="#132B43"/>
<circle cx="156.0" cy="177.0" r="1.65" fill="#132B43"/>
<circle cx="153.8" cy="176.6" r="1.65" fill="#132B43"/>
<circle cx="151.7" cy="175.2" r="1.65" fill="#132B43"/>
<circle cx="150.2" cy="173.0" r="1.65" fill="#132B43"/>
<circle cx="149.1" cy="170.1" r="1.65" fill="#132B43"/>
<circle cx="160.3" cy="176.6" r="1.65" fill="#132B43"/>
<circle cx="153.8" cy="178.9" r="1.65" fill="#132B43"/>
<circle cx="150.9" cy="178.1" r="1.65" fill="#132B43"/>
<circle cx="137.9" cy="162.2" r="1.65" fill="#132B43"/>
<circle cx="139.4" cy="165.4" r="1.65" fill="#132B43"/>
<circle cx="140.8" cy="168.7" r="1.65" fill="#132B43"/>
<circle cx="142.6" cy="167.2" r="1.65" fill="#132B43"/>
<circle cx="138.7" cy="170.1" r="1.65" fill="#132B43"/>
<circle cx="143.0" cy="174.4" r="1.65" fill="#132B43"/>
<circle cx="141.6" cy="176.6" r="1.65" fill="#132B43"/>
<circle cx="137.2" cy="173.0" r="1.65" fill="#132B43"/>
<circle cx="146.6" cy="160.7" r="1.65" fill="#132B43"/>
<circle cx="148.4" cy="162.5" r="1.65" fill="#132B43"/>
<circle cx="149.5" cy="160.0" r="1.65" fill="#132B43"/>
<circle cx="163.2" cy="167.2" r="1.65" fill="#132B43"/>
<circle cx="165.4" cy="167.2" r="1.65" fill="#132B43"/>
<circle cx="167.5" cy="168.7" r="1.65" fill="#132B43"/>
<circle cx="162.5" cy="170.1" r="1.65" fill="#132B43"/>
<circle cx="166.1" cy="170.8" r="1.65" fill="#132B43"/>
<circle cx="167.5" cy="174.4" r="1.65" fill="#132B43"/>
<circle cx="163.9" cy="176.6" r="1.65" fill="#132B43"/>
<circle cx="167.5" cy="178.1" r="1.65" fill="#132B43"/>
<circle cx="169.0" cy="162.9" r="1.65" fill="#132B43"/>
<circle cx="161.8" cy="178.9" r="1.65" fill="#132B43"/>
<circle cx="144.4" cy="179.4" r="1.65" fill="#132B43"/>
<circle cx="134.3" cy="161.4" r="1.65" fill="#132B43"/>
<circle cx="130.7" cy="161.4" r="1.65" fill="#132B43"/>
</g>
<clipPath id="tc5"><rect x="90.00" y="195.00" width="40.00" height="20.00"/></clipPath>
<rect x="90.00" y="195.00" width="40.00" height="20.00" fill="#fff"/>
<g clip-path="url(#tc5)">
<polygon points="88.6,193.6 133.3,193.6 133.3,216.7 88.6,216.7" fill="#163359"/>
<polygon points="123.2,196.8 129.7,196.8 129.7,200.8 127.5,200.8 126.1,208.0 124.7,208.4 122.9,202.9 124.7,199.3 123.2,198.6" fill="#fff"/>
<polygon points="99.7,202.6 101.6,202.6 104.4,205.5 106.6,208.0 110.9,210.2 114.5,212.3 117.8,214.1 117.4,215.9 114.2,215.6 109.9,212.0 105.5,209.4 102.6,206.6 100.1,204.4" fill="#fff"/>
<polygon points="107.0,199.0 108.8,199.0 111.7,202.9 112.4,205.8 110.9,206.2 108.8,202.9" fill="#fff"/>
<polygon points="94.3,210.2 97.2,210.9 97.9,213.8 94.3,213.8" fill="#fff"/>
<circle cx="108.1" cy="195.4" r="1.6" fill="#fff"/>
<circle cx="115.6" cy="197.9" r="1.6" fill="#fff"/>
<circle cx="115.6" cy="202.9" r="1.6" fill="#fff"/>
<circle cx="117.1" cy="209.8" r="1.6" fill="#fff"/>
<circle cx="91.1" cy="207.6" r="1.6" fill="#fff"/>
<circle cx="125.4" cy="212.7" r="1.6" fill="#fff"/>
<circle cx="127.5" cy="213.1" r="1.6" fill="#fff"/>
<circle cx="101.6" cy="214.5" r="1.6" fill="#fff"/>
<circle cx="104.4" cy="214.5" r="1.6" fill="#fff"/>
</g>
<clipPath id="tc6"><rect x="130.00" y="195.00" width="40.00" height="20.00"/></clipPath>
<rect x="130.00" y="195.00" width="40.00" height="20.00" fill="#fff"/>
<g clip-path="url(#tc6)">
<polygon points="128.6,193.6 147.3,193.6 148.8,197.9 147.3,202.9 148.1,206.6 146.6,209.4 147.3,212.3 146.6,216.7 128.6,216.7" fill="#163359"/>
<circle cx="135.1" cy="195.7" r="1.6" fill="#fff"/>
<circle cx="134.7" cy="200.1" r="1.6" fill="#fff"/>
<circle cx="137.2" cy="200.1" r="1.6" fill="#fff"/>
<circle cx="139.4" cy="200.1" r="1.6" fill="#fff"/>
<circle cx="135.1" cy="202.9" r="1.6" fill="#fff"/>
<circle cx="136.5" cy="204.4" r="1.6" fill="#fff"/>
<circle cx="133.2" cy="206.6" r="1.6" fill="#fff"/>
<circle cx="142.3" cy="204.4" r="1.6" fill="#fff"/>
<circle cx="143.7" cy="204.4" r="1.6" fill="#fff"/>
<circle cx="143.0" cy="206.6" r="1.6" fill="#fff"/>
<circle cx="140.8" cy="208.0" r="1.6" fill="#fff"/>
<circle cx="138.7" cy="209.1" r="1.6" fill="#fff"/>
<circle cx="132.9" cy="210.5" r="1.6" fill="#fff"/>
<circle cx="145.2" cy="208.7" r="1.6" fill="#fff"/>
<circle cx="146.6" cy="201.5" r="1.6" fill="#fff"/>
<circle cx="147.0" cy="205.8" r="1.6" fill="#fff"/>
<circle cx="154.9" cy="195.4" r="1.65" fill="#132B43"/>
<circle cx="161.8" cy="195.4" r="1.65" fill="#132B43"/>
<circle cx="151.7" cy="200.4" r="1.65" fill="#132B43"/>
<circle cx="153.8" cy="200.4" r="1.65" fill="#132B43"/>
<circle cx="160.3" cy="200.4" r="1.65" fill="#132B43"/>
<circle cx="167.5" cy="199.3" r="1.65" fill="#132B43"/>
<circle cx="152.4" cy="203.7" r="1.65" fill="#132B43"/>
<circle cx="159.6" cy="202.2" r="1.65" fill="#132B43"/>
<circle cx="163.2" cy="204.4" r="1.65" fill="#132B43"/>
<circle cx="167.5" cy="202.2" r="1.65" fill="#132B43"/>
<circle cx="153.8" cy="207.3" r="1.65" fill="#132B43"/>
<circle cx="159.6" cy="206.9" r="1.65" fill="#132B43"/>
<circle cx="167.5" cy="205.8" r="1.65" fill="#132B43"/>
<circle cx="167.5" cy="210.2" r="1.65" fill="#132B43"/>
<circle cx="164.7" cy="213.9" r="1.65" fill="#132B43"/>
<circle cx="167.5" cy="213.9" r="1.65" fill="#132B43"/>
<circle cx="169.0" cy="197.2" r="1.65" fill="#132B43"/>
</g>
<clipPath id="tc7"><rect x="50.00" y="215.00" width="40.00" height="20.00"/></clipPath>
<rect x="50.00" y="215.00" width="40.00" height="20.00" fill="#fff"/>
<g clip-path="url(#tc7)">
<polygon points="48.6,213.6 76.0,213.6 75.3,217.9 71.7,219.3 68.8,222.2 65.2,224.4 64.4,228.0 65.2,231.6 65.5,236.7 48.6,236.7" fill="#163359"/>
<circle cx="68.8" cy="215.7" r="1.6" fill="#fff"/>
<circle cx="65.9" cy="220.1" r="1.6" fill="#fff"/>
<circle cx="52.2" cy="222.2" r="1.6" fill="#fff"/>
<circle cx="60.1" cy="222.9" r="1.6" fill="#fff"/>
<circle cx="55.1" cy="227.6" r="1.6" fill="#fff"/>
<circle cx="60.1" cy="226.9" r="1.6" fill="#fff"/>
<circle cx="59.4" cy="230.5" r="1.6" fill="#fff"/>
<circle cx="52.9" cy="232.3" r="1.6" fill="#fff"/>
<circle cx="60.8" cy="233.4" r="1.6" fill="#fff"/>
<circle cx="57.2" cy="233.4" r="1.6" fill="#fff"/>
<circle cx="63.0" cy="225.1" r="1.6" fill="#fff"/>
<circle cx="79.6" cy="217.2" r="1.65" fill="#132B43"/>
<circle cx="81.8" cy="215.7" r="1.65" fill="#132B43"/>
<circle cx="73.8" cy="222.2" r="1.65" fill="#132B43"/>
<circle cx="76.7" cy="222.2" r="1.65" fill="#132B43"/>
<circle cx="83.9" cy="220.1" r="1.65" fill="#132B43"/>
<circle cx="85.4" cy="222.2" r="1.65" fill="#132B43"/>
<circle cx="81.0" cy="225.1" r="1.65" fill="#132B43"/>
<circle cx="79.6" cy="227.3" r="1.65" fill="#132B43"/>
<circle cx="85.4" cy="227.3" r="1.65" fill="#132B43"/>
<circle cx="86.8" cy="230.2" r="1.65" fill="#132B43"/>
<circle cx="82.5" cy="232.3" r="1.65" fill="#132B43"/>
<circle cx="89.4" cy="219.7" r="1.65" fill="#132B43"/>
<circle cx="67.3" cy="232.3" r="1.65" fill="#132B43"/>
<circle cx="69.5" cy="225.1" r="1.65" fill="#132B43"/>
</g>
<clipPath id="tc8"><rect x="45.00" y="108.00" width="40.00" height="20.00"/></clipPath>
<rect x="45.00" y="108.00" width="40.00" height="20.00" fill="#fff"/>
<g clip-path="url(#tc8)">
<polygon points="43.6,106.6 52.2,106.6 52.2,108.4 55.8,110.2 56.6,112.3 56.9,115.9 58.7,118.1 58.4,125.3 62.3,124.6 62.3,129.7 43.6,129.7" fill="#163359"/>
<polygon points="58.7,109.1 76.8,109.1 77.1,111.6 69.5,112.0 69.5,115.9 59.4,115.9 59.4,112.0 58.7,111.6" fill="#163359"/>
<polygon points="62.3,123.9 66.7,122.4 68.8,123.5 76.8,124.2 77.5,129.7 62.3,129.7" fill="#163359"/>
<circle cx="67.4" cy="117.4" r="1.65" fill="#132B43"/>
<circle cx="68.8" cy="120.3" r="1.65" fill="#132B43"/>
<circle cx="71.7" cy="118.8" r="1.65" fill="#132B43"/>
<circle cx="73.5" cy="118.1" r="1.65" fill="#132B43"/>
<circle cx="75.3" cy="121.0" r="1.65" fill="#132B43"/>
<circle cx="77.5" cy="121.7" r="1.65" fill="#132B43"/>
<circle cx="79.7" cy="122.4" r="1.65" fill="#132B43"/>
<circle cx="72.4" cy="122.4" r="1.65" fill="#132B43"/>
<circle cx="70.3" cy="123.2" r="1.65" fill="#132B43"/>
<circle cx="78.9" cy="113.1" r="1.65" fill="#132B43"/>
<circle cx="83.3" cy="115.2" r="1.65" fill="#132B43"/>
<circle cx="83.3" cy="125.3" r="1.65" fill="#132B43"/>
<circle cx="65.9" cy="117.0" r="1.65" fill="#132B43"/>
<circle cx="70.3" cy="113.8" r="1.65" fill="#132B43"/>
</g>
<clipPath id="tc9"><rect x="40.00" y="90.00" width="40.00" height="20.00"/></clipPath>
<rect x="40.00" y="90.00" width="40.00" height="20.00" fill="#fff"/>
<g clip-path="url(#tc9)">
<polygon points="38.6,88.6 47.2,88.6 47.2,92.2 49.4,92.5 54.4,94.3 55.5,97.2 57.3,96.9 60.2,98.7 64.5,100.1 63.8,102.3 61.7,104.4 60.9,106.6 58.1,107.0 57.3,111.7 38.6,111.7" fill="#163359"/>
<polygon points="59.1,108.6 76.8,108.6 76.8,111.7 59.1,111.7" fill="#163359"/>
<polygon points="44.3,95.1 48.7,95.1 49.0,97.9 47.9,99.4 48.7,103.0 46.9,104.1 45.8,101.6 45.1,97.9" fill="#fff"/>
<polygon points="53.0,100.1 56.6,99.4 59.1,101.6 58.8,105.5 55.2,106.6 53.4,104.4" fill="#fff"/>
<circle cx="60.2" cy="90.7" r="1.65" fill="#132B43"/>
<circle cx="73.2" cy="93.2" r="1.65" fill="#132B43"/>
<circle cx="77.5" cy="95.8" r="1.65" fill="#132B43"/>
</g>
<rect x="34.5" y="110" width="2.3" height="134" fill="url(#cA)"/>
<rect x="36.8" y="110" width="2.4" height="134" fill="url(#cB)"/>
<rect x="39.2" y="118" width="2.8" height="126" fill="url(#cC)"/>
<rect x="42" y="125" width="4" height="119" fill="url(#cD)"/>
<defs><linearGradient id="hg" x1="0" y1="0" x2="1" y2="0"><stop offset="0" stop-color="#3a7cc0" stop-opacity="0.22"/><stop offset="1" stop-color="#3a7cc0" stop-opacity="0"/></linearGradient><linearGradient id="vg" x1="0" y1="0" x2="0" y2="1"><stop offset="0" stop-color="#fff" stop-opacity="0"/><stop offset="0.3" stop-color="#fff" stop-opacity="1"/><stop offset="0.75" stop-color="#fff" stop-opacity="1"/><stop offset="1" stop-color="#fff" stop-opacity="0"/></linearGradient><mask id="vm"><rect x="46" y="130" width="16" height="95" fill="url(#vg)"/></mask></defs>
<rect x="46" y="130" width="16" height="95" fill="url(#hg)" mask="url(#vm)"/>
<circle cx="37.9" cy="130.15" r="1.5" fill="#ffffff" fill-opacity="0.10"/><circle cx="37.9" cy="135.10" r="1.5" fill="#ffffff" fill-opacity="0.10"/><circle cx="37.9" cy="140.05" r="1.5" fill="#ffffff" fill-opacity="0.10"/><circle cx="37.9" cy="145.00" r="1.5" fill="#ffffff" fill-opacity="0.10"/><circle cx="37.9" cy="149.95" r="1.5" fill="#ffffff" fill-opacity="0.10"/><circle cx="37.9" cy="154.90" r="1.5" fill="#ffffff" fill-opacity="0.10"/><circle cx="37.9" cy="159.85" r="1.5" fill="#ffffff" fill-opacity="0.10"/><circle cx="37.9" cy="164.80" r="1.5" fill="#ffffff" fill-opacity="0.10"/><circle cx="37.9" cy="169.75" r="1.5" fill="#ffffff" fill-opacity="0.10"/><circle cx="37.9" cy="174.70" r="1.5" fill="#ffffff" fill-opacity="0.10"/><circle cx="37.9" cy="179.65" r="1.5" fill="#ffffff" fill-opacity="0.10"/><circle cx="37.9" cy="184.60" r="1.5" fill="#ffffff" fill-opacity="0.10"/><circle cx="37.9" cy="189.55" r="1.5" fill="#ffffff" fill-opacity="0.10"/><circle cx="37.9" cy="194.50" r="1.5" fill="#ffffff" fill-opacity="0.10"/><circle cx="37.9" cy="199.45" r="1.5" fill="#ffffff" fill-opacity="0.10"/><circle cx="37.9" cy="204.40" r="1.5" fill="#ffffff" fill-opacity="0.10"/><circle cx="37.9" cy="209.35" r="1.5" fill="#ffffff" fill-opacity="0.10"/><circle cx="37.9" cy="214.30" r="1.5" fill="#ffffff" fill-opacity="0.10"/><circle cx="37.9" cy="219.25" r="1.5" fill="#ffffff" fill-opacity="0.10"/><circle cx="37.9" cy="224.20" r="1.5" fill="#ffffff" fill-opacity="0.10"/><circle cx="37.9" cy="229.15" r="1.5" fill="#ffffff" fill-opacity="0.10"/><circle cx="37.9" cy="234.10" r="1.5" fill="#ffffff" fill-opacity="0.10"/><circle cx="37.9" cy="239.05" r="1.5" fill="#ffffff" fill-opacity="0.10"/>
<path d="M34.30 27.85L35.75 29.15L34.30 30.45ZM34.30 32.80L35.75 34.10L34.30 35.40ZM34.30 37.75L35.75 39.05L34.30 40.35ZM34.30 42.70L35.75 44.00L34.30 45.30ZM34.30 47.65L35.75 48.95L34.30 50.25ZM34.30 52.60L35.75 53.90L34.30 55.20ZM34.30 57.55L35.75 58.85L34.30 60.15ZM34.30 62.50L35.75 63.80L34.30 65.10ZM34.30 67.45L35.75 68.75L34.30 70.05ZM34.30 72.40L35.75 73.70L34.30 75.00ZM34.30 77.35L35.75 78.65L34.30 79.95ZM34.30 82.30L35.75 83.60L34.30 84.90ZM34.30 87.25L35.75 88.55L34.30 89.85ZM34.30 92.20L35.75 93.50L34.30 94.80ZM34.30 97.15L35.75 98.45L34.30 99.75ZM34.30 102.10L35.75 103.40L34.30 104.70ZM34.30 107.05L35.75 108.35L34.30 109.65ZM34.30 112.00L35.75 113.30L34.30 114.60ZM34.30 116.95L35.75 118.25L34.30 119.55ZM34.30 121.90L35.75 123.20L34.30 124.50ZM34.30 126.85L35.75 128.15L34.30 129.45ZM34.30 131.80L35.75 133.10L34.30 134.40ZM34.30 136.75L35.75 138.05L34.30 139.35ZM34.30 141.70L35.75 143.00L34.30 144.30ZM34.30 146.65L35.75 147.95L34.30 149.25ZM34.30 151.60L35.75 152.90L34.30 154.20ZM34.30 156.55L35.75 157.85L34.30 159.15ZM34.30 161.50L35.75 162.80L34.30 164.10ZM34.30 166.45L35.75 167.75L34.30 169.05ZM34.30 171.40L35.75 172.70L34.30 174.00ZM34.30 176.35L35.75 177.65L34.30 178.95ZM34.30 181.30L35.75 182.60L34.30 183.90ZM34.30 186.25L35.75 187.55L34.30 188.85ZM34.30 191.20L35.75 192.50L34.30 193.80ZM34.30 196.15L35.75 197.45L34.30 198.75ZM34.30 201.10L35.75 202.40L34.30 203.70ZM34.30 206.05L35.75 207.35L34.30 208.65ZM34.30 211.00L35.75 212.30L34.30 213.60ZM34.30 215.95L35.75 217.25L34.30 218.55ZM34.30 220.90L35.75 222.20L34.30 223.50ZM34.30 225.85L35.75 227.15L34.30 228.45ZM34.30 230.80L35.75 232.10L34.30 233.40ZM34.30 235.75L35.75 237.05L34.30 238.35ZM34.30 240.70L35.75 242.00L34.30 243.30Z" fill="#fff"/>
<polygon points="36.2,165.1 38.1,171.0 40.0,175.7 41.8,177.2 43.7,177.5 45.6,177.6 47.5,177.7 49.4,177.8 51.2,177.9 53.1,178.0 55.0,178.1 56.9,178.1 58.8,178.2 60.6,178.3 62.5,178.4 64.4,178.4 66.3,178.5 68.2,178.6 70.0,178.6 71.9,178.7 73.8,178.7 75.7,178.7 77.6,178.8 79.4,178.8 81.3,178.8 83.2,178.9 85.1,178.9 87.0,178.9 88.8,179.0 90.7,179.0 92.6,179.0 94.5,179.0 96.4,179.0 98.2,179.1 100.1,179.1 102.0,179.1 103.9,179.1 105.8,179.1 107.6,179.1 109.5,179.1 111.4,179.1 113.3,179.1 115.2,179.1 117.0,179.2 118.9,179.2 120.8,179.2 122.7,179.2 124.6,179.2 126.4,179.2 128.3,179.2 130.2,179.2 132.1,179.2 134.0,179.2 135.8,179.2 137.7,179.2 139.6,179.2 141.5,179.2 143.4,179.2 145.2,179.2 147.1,179.2 149.0,179.2 150.9,179.2 152.8,179.2 154.6,179.1 156.5,179.1 158.4,179.1 160.3,179.0 162.2,179.0 164.0,179.0 165.9,178.9 167.8,178.9 169.7,178.9 171.6,178.8 173.4,178.8 175.3,178.7 177.2,178.7 179.1,178.7 181.0,178.6 182.8,178.6 184.7,178.5 186.6,178.5 188.5,178.4 190.4,178.4 192.2,178.3 194.1,178.2 196.0,178.2 197.9,178.1 199.8,178.1 201.6,178.0 203.5,177.9 205.4,177.9 207.3,177.8 209.2,177.7 211.0,177.7 212.9,177.6 214.8,177.5 216.7,177.4 218.6,177.3 220.4,177.2 222.3,177.1 224.2,177.0 226.1,176.9 228.0,176.8 229.8,176.7 231.7,176.6 233.6,176.5 235.5,176.4 237.4,176.3 239.2,176.1 241.1,176.0 243.0,175.9 244.9,175.8 246.8,175.6 248.6,175.5 250.5,175.4 252.4,175.2 254.3,175.1 256.2,175.0 258.0,174.8 259.9,174.7 261.8,174.5 261.8,186.1 259.9,186.0 258.0,185.9 256.2,185.8 254.3,185.7 252.4,185.6 250.5,185.5 248.6,185.5 246.8,185.4 244.9,185.3 243.0,185.2 241.1,185.1 239.2,185.1 237.4,185.0 235.5,184.9 233.6,184.8 231.7,184.8 229.8,184.7 228.0,184.6 226.1,184.6 224.2,184.5 222.3,184.4 220.4,184.4 218.6,184.3 216.7,184.3 214.8,184.2 212.9,184.2 211.0,184.1 209.2,184.1 207.3,184.0 205.4,183.9 203.5,183.9 201.6,183.8 199.8,183.7 197.9,183.7 196.0,183.6 194.1,183.6 192.2,183.5 190.4,183.4 188.5,183.4 186.6,183.3 184.7,183.3 182.8,183.2 181.0,183.2 179.1,183.1 177.2,183.1 175.3,183.0 173.4,183.0 171.6,182.9 169.7,182.9 167.8,182.8 165.9,182.8 164.0,182.7 162.2,182.7 160.3,182.6 158.4,182.6 156.5,182.5 154.6,182.5 152.8,182.5 150.9,182.4 149.0,182.4 147.1,182.3 145.2,182.2 143.4,182.2 141.5,182.1 139.6,182.0 137.7,182.0 135.8,181.9 134.0,181.9 132.1,181.8 130.2,181.7 128.3,181.7 126.4,181.6 124.6,181.6 122.7,181.5 120.8,181.5 118.9,181.4 117.0,181.3 115.2,181.3 113.3,181.2 111.4,181.2 109.5,181.1 107.6,181.1 105.8,181.0 103.9,181.0 102.0,180.9 100.1,180.9 98.2,180.8 96.4,180.8 94.5,180.7 92.6,180.7 90.7,180.6 88.8,180.6 87.0,180.5 85.1,180.4 83.2,180.4 81.3,180.3 79.4,180.2 77.6,180.2 75.7,180.1 73.8,180.0 71.9,180.0 70.0,179.9 68.2,179.8 66.3,179.7 64.4,179.6 62.5,179.5 60.6,179.4 58.8,179.3 56.9,179.2 55.0,179.1 53.1,179.0 51.2,178.9 49.4,178.8 47.5,178.7 45.6,178.6 43.7,178.4 41.8,178.1 40.0,176.6 38.1,171.9 36.2,165.9" fill="#999999" fill-opacity="0.4"/>
<polyline points="36.2,165.5 37.7,170.0 38.8,174.3 40.2,176.5 41.7,177.6 44.0,178.0 46.0,178.1 57.0,178.7 68.0,179.2 90.0,179.8 120.0,180.3 150.0,180.8 180.0,180.9 210.0,180.9 240.0,180.6 261.8,180.3" fill="none" stroke="#ff1a1a" stroke-width="1.4" stroke-linejoin="round"/>
</g>
<polygon points="343.03,242.5 343.03,241.5 349.70,241.5 349.70,232 356.37,232 356.37,231.2 363.04,231.2 363.04,226.3 369.71,226.3 369.71,214 376.38,214 376.38,195.3 383.05,195.3 383.05,164 389.72,164 389.72,118.9 396.39,118.9 396.39,74.5 403.06,74.5 403.06,44.9 409.73,44.9 409.73,43.9 416.40,43.9 416.40,71.2 423.07,71.2 423.07,112.8 429.74,112.8 429.74,147.7 436.41,147.7 436.41,174.3 443.08,174.3 443.08,196 449.75,196 449.75,210 456.42,210 456.42,219.2 463.09,219.2 463.09,225.8 469.76,225.8 469.76,230.3 476.43,230.3 476.43,234.1 483.10,234.1 483.10,235.7 489.77,235.7 489.77,237.1 496.44,237.1 496.44,238.3 503.11,238.3 503.11,239.6 509.78,239.6 509.78,240.2 516.45,240.2 516.45,241 523.12,241 523.12,241.5 529.79,241.5 529.79,241.7 536.46,241.7 536.46,241.9 543.13,241.9 543.13,242.0 549.80,242.0 549.80,242.1 556.47,242.1 556.47,242.5" fill="#333333"/>
<line x1="412.09" y1="16.5" x2="412.09" y2="252.5" stroke="#e8262a" stroke-width="1.1" stroke-dasharray="3.3,3"/>
<rect x="25.7" y="16.0" width="247.8" height="236.6" fill="none" stroke="#a8a8a8" stroke-width="1.25"/>
<line x1="25.7" y1="16" x2="25.7" y2="252.6" stroke="#8c8c8c" stroke-width="1.1"/>
<rect x="332.4" y="16.0" width="233.9" height="236.6" fill="none" stroke="#a8a8a8" stroke-width="1.25"/>
<line x1="332.4" y1="16" x2="332.4" y2="252.6" stroke="#5a5a5a" stroke-width="1.1"/>
<line x1="35.90" y1="253.2" x2="35.90" y2="256.7" stroke="#000" stroke-width="1.1"/><line x1="92.38" y1="253.2" x2="92.38" y2="256.7" stroke="#000" stroke-width="1.1"/><line x1="148.85" y1="253.2" x2="148.85" y2="256.7" stroke="#000" stroke-width="1.1"/><line x1="205.32" y1="253.2" x2="205.32" y2="256.7" stroke="#000" stroke-width="1.1"/><line x1="261.80" y1="253.2" x2="261.80" y2="256.7" stroke="#000" stroke-width="1.1"/><line x1="21.3" y1="242.20" x2="25.2" y2="242.20" stroke="#000" stroke-width="1.1"/><line x1="21.3" y1="170.30" x2="25.2" y2="170.30" stroke="#000" stroke-width="1.1"/><line x1="21.3" y1="98.40" x2="25.2" y2="98.40" stroke="#000" stroke-width="1.1"/><line x1="21.3" y1="26.50" x2="25.2" y2="26.50" stroke="#000" stroke-width="1.1"/><line x1="349.70" y1="253.2" x2="349.70" y2="256.7" stroke="#000" stroke-width="1.1"/><line x1="416.40" y1="253.2" x2="416.40" y2="256.7" stroke="#000" stroke-width="1.1"/><line x1="483.10" y1="253.2" x2="483.10" y2="256.7" stroke="#000" stroke-width="1.1"/><line x1="549.80" y1="253.2" x2="549.80" y2="256.7" stroke="#000" stroke-width="1.1"/><line x1="328.4" y1="242.20" x2="332" y2="242.20" stroke="#000" stroke-width="1.1"/><line x1="328.4" y1="174.83" x2="332" y2="174.83" stroke="#000" stroke-width="1.1"/><line x1="328.4" y1="107.47" x2="332" y2="107.47" stroke="#000" stroke-width="1.1"/><line x1="328.4" y1="40.10" x2="332" y2="40.10" stroke="#000" stroke-width="1.1"/>
<rect x="222" y="22" width="44" height="89" fill="#fff"/><defs><linearGradient id="cg" x1="0" y1="1" x2="0" y2="0"><stop offset="0" stop-color="#132B43"/><stop offset="0.25" stop-color="#1f4563"/><stop offset="0.5" stop-color="#2d6190"/><stop offset="0.75" stop-color="#3f86c0"/><stop offset="1" stop-color="#56B1F7"/></linearGradient></defs><rect x="225.5" y="36.6" width="14.3" height="70.8" fill="url(#cg)"/><line x1="225.5" y1="46.7" x2="228.5" y2="46.7" stroke="#fff" stroke-width="0.8"/><line x1="236.8" y1="46.7" x2="239.8" y2="46.7" stroke="#fff" stroke-width="0.8"/><line x1="225.5" y1="67.6" x2="228.5" y2="67.6" stroke="#fff" stroke-width="0.8"/><line x1="236.8" y1="67.6" x2="239.8" y2="67.6" stroke="#fff" stroke-width="0.8"/><line x1="225.5" y1="88.6" x2="228.5" y2="88.6" stroke="#fff" stroke-width="0.8"/><line x1="236.8" y1="88.6" x2="239.8" y2="88.6" stroke="#fff" stroke-width="0.8"/>
<g font-family='"Liberation Sans", sans-serif' fill="#000" opacity="0.999"><text transform="translate(35.90,265.00) scale(1,1.15)" font-size="7.9" text-anchor="middle" font-weight="bold" stroke="#000" stroke-width="0.3">0</text><text transform="translate(92.38,265.00) scale(1,1.15)" font-size="7.9" text-anchor="middle" font-weight="bold" stroke="#000" stroke-width="0.3">250</text><text transform="translate(148.85,265.00) scale(1,1.15)" font-size="7.9" text-anchor="middle" font-weight="bold" stroke="#000" stroke-width="0.3">500</text><text transform="translate(205.32,265.00) scale(1,1.15)" font-size="7.9" text-anchor="middle" font-weight="bold" stroke="#000" stroke-width="0.3">750</text><text transform="translate(261.80,265.00) scale(1,1.15)" font-size="7.9" text-anchor="middle" font-weight="bold" stroke="#000" stroke-width="0.3">1000</text><text transform="translate(20.00,245.00) scale(1,1.15)" font-size="7.9" text-anchor="end" font-weight="bold" stroke="#000" stroke-width="0.3">−1</text><text transform="translate(20.00,173.10) scale(1,1.15)" font-size="7.9" text-anchor="end" font-weight="bold" stroke="#000" stroke-width="0.3">0</text><text transform="translate(20.00,101.20) scale(1,1.15)" font-size="7.9" text-anchor="end" font-weight="bold" stroke="#000" stroke-width="0.3">1</text><text transform="translate(20.00,29.30) scale(1,1.15)" font-size="7.9" text-anchor="end" font-weight="bold" stroke="#000" stroke-width="0.3">2</text><text transform="translate(349.70,265.00) scale(1,1.15)" font-size="7.9" text-anchor="middle" font-weight="bold" stroke="#000" stroke-width="0.3">−1</text><text transform="translate(416.40,265.00) scale(1,1.15)" font-size="7.9" text-anchor="middle" font-weight="bold" stroke="#000" stroke-width="0.3">0</text><text transform="translate(483.10,265.00) scale(1,1.15)" font-size="7.9" text-anchor="middle" font-weight="bold" stroke="#000" stroke-width="0.3">1</text><text transform="translate(549.80,265.00) scale(1,1.15)" font-size="7.9" text-anchor="middle" font-weight="bold" stroke="#000" stroke-width="0.3">2</text><text transform="translate(326.50,245.00) scale(1,1.15)" font-size="7.9" text-anchor="end" font-weight="bold" stroke="#000" stroke-width="0.3">0</text><text transform="translate(326.50,177.63) scale(1,1.15)" font-size="7.9" text-anchor="end" font-weight="bold" stroke="#000" stroke-width="0.3">5000</text><text transform="translate(326.50,110.27) scale(1,1.15)" font-size="7.9" text-anchor="end" font-weight="bold" stroke="#000" stroke-width="0.3">10000</text><text transform="translate(326.50,42.90) scale(1,1.15)" font-size="7.9" text-anchor="end" font-weight="bold" stroke="#000" stroke-width="0.3">15000</text><text transform="translate(149.85,13.10) scale(1,1.15)" font-size="11.42" text-anchor="middle" font-weight="bold" stroke="#000" stroke-width="0.45">Relative error vs. RNA−Seq estimates</text><text transform="translate(449.60,13.10) scale(1,1.15)" font-size="11.3" text-anchor="middle" font-weight="bold" stroke="#000" stroke-width="0.45">Relative error</text><text transform="translate(148.40,275.00) scale(1,1.15)" font-size="9.5" text-anchor="middle" font-weight="normal" stroke="#000" stroke-width="0.3">RNA−Seq expression (RPKM)</text><text transform="translate(449.90,275.10) scale(1,1.15)" font-size="9.7" text-anchor="middle" font-weight="normal" stroke="#000" stroke-width="0.3">Relative error</text><text transform="translate(8.9,133.9) rotate(-90) scale(1,1.15)" font-size="10" text-anchor="middle" stroke="#000" stroke-width="0.3">Relative error</text><text transform="translate(301.5,133.1) rotate(-90) scale(1,1.15)" font-size="9.5" text-anchor="middle" stroke="#000" stroke-width="0.3">Frequency</text><text transform="translate(2.20,8.60) scale(1,0.95)" font-size="13.3" text-anchor="start" font-weight="bold" stroke="#000" stroke-width="0.5">a</text><text transform="translate(296.60,10.00) scale(1,0.95)" font-size="13.3" text-anchor="start" font-weight="bold" stroke="#000" stroke-width="0.5">b</text><text transform="translate(549.60,29.20) scale(1,1.15)" font-size="7.0" text-anchor="end" font-weight="bold" stroke="#000" stroke-width="0.25">Median error = −6.46%</text><text transform="translate(549.60,42.10) scale(1,1.15)" font-size="7.0" text-anchor="end" font-weight="bold" stroke="#000" stroke-width="0.25">Median absolute error = 21.98%</text><g font-weight="bold" stroke="#000" stroke-width="0.3"><text transform="translate(225.6,33.7) scale(1,1.15)" font-size="8.1">count</text><text transform="translate(243.4,49.60) scale(1,1.15)" font-size="8">3000</text><text transform="translate(243.4,70.50) scale(1,1.15)" font-size="8">2000</text><text transform="translate(243.4,91.50) scale(1,1.15)" font-size="8">1000</text></g></g>
</svg>
</body></html>
